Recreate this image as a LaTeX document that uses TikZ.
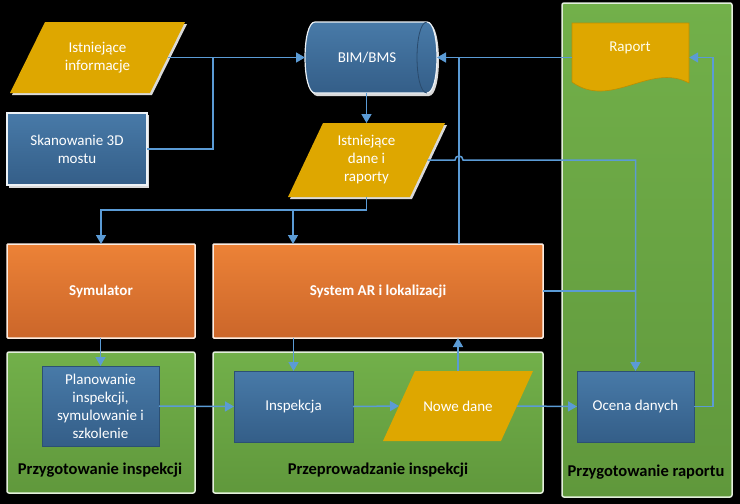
\documentclass[tikz,border=0pt]{standalone}
\usepackage{fontspec}
\setmainfont{Carlito}
\usetikzlibrary{arrows.meta,calc}
\definecolor{lblue}{RGB}{91,155,213}
\definecolor{gold}{RGB}{222,167,0}
\definecolor{gT}{RGB}{114,176,74}
\definecolor{gB}{RGB}{96,152,60}
\definecolor{oT}{RGB}{236,130,55}
\definecolor{oB}{RGB}{203,102,42}
\definecolor{bT}{RGB}{72,122,168}
\definecolor{bB}{RGB}{52,94,136}
\newcommand{\paragram}[6]{% cx, cy, midwidth, height, offset, extra style
  \fill[gold,#6] (#1-#3/2-#5/2,#2+#4/2) -- (#1+#3/2-#5/2,#2+#4/2) -- (#1+#3/2+#5/2,#2-#4/2) -- (#1-#3/2+#5/2,#2-#4/2) -- cycle;}
\begin{document}
\begin{tikzpicture}[x=1pt,y=-1pt,
  conn/.style={draw=lblue,line width=1.5pt},
  arr/.style={conn,-{Triangle[length=9pt,width=10pt]}},
  txt/.style={text=white,font=\fontsize{15}{18}\selectfont,align=center,inner sep=0pt,outer sep=0pt},
  boldlbl/.style={text=black,font=\fontsize{16.5}{19}\selectfont\bfseries,inner sep=0pt},
  panel/.style={top color=gT,bottom color=gB,draw=white!80!gT,line width=1.5pt,rounded corners=2pt},
  orangebox/.style={txt,font=\fontsize{15}{18}\selectfont\bfseries,top color=oT,bottom color=oB,draw=white!85!oT,line width=1.5pt,rounded corners=1pt},
  topblue/.style={txt,top color=bT,bottom color=bB,draw=white!90!bT,line width=1.5pt},
  bluebox/.style={txt,top color=bT,bottom color=bB,draw=bB!85!black,line width=0.8pt},
  glow/.style={fill=white,opacity=0.85}
]
\useasboundingbox (0,0) rectangle (740,504);
\fill[black] (0,0) rectangle (740,504);

% green panels
\path[panel] (7,352) rectangle (195,493);
\path[panel] (213,352) rectangle (543,493);
\path[panel] (562,3) rectangle (732,497);

% orange boxes
\node[orangebox,minimum width=188pt,minimum height=94pt] (sym) at (101,291) {Symulator};
\node[orangebox,minimum width=330pt,minimum height=94pt] (ar) at (378,291) {System AR i lokalizacji};

% Istniejace informacje
\paragram{99.5}{59.5}{140}{71}{35}{white,opacity=0.85}
\paragram{97.5}{57.5}{140}{71}{35}{}
\node[txt,minimum width=140pt,minimum height=71pt] (ii) at (97.5,57.5) {Istniejące\\informacje};

% Skanowanie
\fill[glow] (9,115) rectangle (149,188);
\node[topblue,minimum width=140pt,minimum height=72pt] (sk) at (77,149) {Skanowanie 3D\\mostu};

% BIM/BMS cylinder
\fill[glow] (317,24) -- (429,24) .. controls (442.3,24) and (442.3,96) .. (429,96) -- (317,96) .. controls (303.7,96) and (303.7,24) .. (317,24) -- cycle;
\shade[top color=bT,bottom color=bB,draw=white!90!bT,line width=1.2pt] (315,22) -- (427,22) .. controls (440.3,22) and (440.3,93) .. (427,93) -- (315,93) .. controls (301.7,93) and (301.7,22) .. (315,22) -- cycle;
\draw[bB!80!black,line width=0.8pt] (427,22) .. controls (413.7,22) and (413.7,93) .. (427,93);
\node[txt,minimum width=132pt,minimum height=71pt] (bim) at (371,57.5) {\hspace*{-8pt}BIM/BMS};

% Istniejace dane i raporty
\paragram{368.5}{162}{122}{74}{35}{white,opacity=0.85}
\paragram{366.5}{160}{122}{74}{35}{}
\node[txt,minimum width=122pt,minimum height=74pt] (dane) at (366.5,160) {Istniejące\\dane i\\raporty};

% Raport document
\fill[gold,draw=gold!85!black,line width=0.6pt] (572,23) -- (689,23) -- (689,83) .. controls (650,62) and (611,110) .. (572,82) -- cycle;
\node[inner sep=0pt,minimum width=117pt,minimum height=69pt] (rap) at (630.5,57.5) {};
\node[txt,text=white!92!yellow] at (630,48) {Raport};

% inner boxes
\node[bluebox,minimum width=117pt,minimum height=80pt] (plan) at (100.5,406) {Planowanie\\inspekcji,\\symulowanie i\\szkolenie};
\node[bluebox,minimum width=119pt,minimum height=71pt] (insp) at (293.5,406.5) {Inspekcja};
\paragram{458}{406}{118}{70}{32}{}
\node[txt,minimum width=118pt,minimum height=70pt] (nowe) at (458,406) {Nowe dane};
\node[bluebox,minimum width=117pt,minimum height=71pt] (ocena) at (635.5,406.5) {Ocena danych};

% panel labels
\node[boldlbl] (l1) at (100,470) {Przygotowanie inspekcji};
\node[boldlbl] (l2) at (378,470) {Przeprowadzanie inspekcji};
\node[boldlbl] (l3) at (646,472) {Przygotowanie raportu};

% connectors
\coordinate (j1) at (213,57.5);
\coordinate (split) at (366.5,210);
\coordinate (b1) at (293,210);
\coordinate (up) at (459,57.5);
\coordinate (rr) at (713,57.5);
\draw[arr] (ii.east) -- (bim.west);
\draw[conn] (sk.east) -| (j1);
\draw[arr] (dane.north |- bim.south) -- (dane.north);
\draw[arr] (dane.south) -- (split) -| (sym.north);
\draw[arr] (b1) -- (b1 |- ar.north);
\draw[conn] (ar.north -| up) -- (up);
\coordinate (hop) at (dane.east -| up);
\draw[arr] (dane.east) -- ($(hop)+(-4,0)$) .. controls +(0,-5.3) and +(0,-5.3) .. ($(hop)+(4,0)$) -| (ocena.north);
\draw[arr] (rap.west) -- (bim.east);
\draw[arr] (sym.south -| plan.north) -- (plan.north);
\draw[arr] (ar.south -| insp.north) -- (insp.north);
\draw[arr] (plan.east) -- (insp.west);
\draw[arr] (insp.east) -- (nowe.west);
\draw[arr] (nowe.north) -- (nowe.north |- ar.south);
\draw[arr] (nowe.east) -- (ocena.west);
\draw[arr] (ocena.east) -| (rr) -- (rap.east);
\draw[conn] (ar.east) -- (ar.east -| ocena.north);
\end{tikzpicture}
\end{document}
